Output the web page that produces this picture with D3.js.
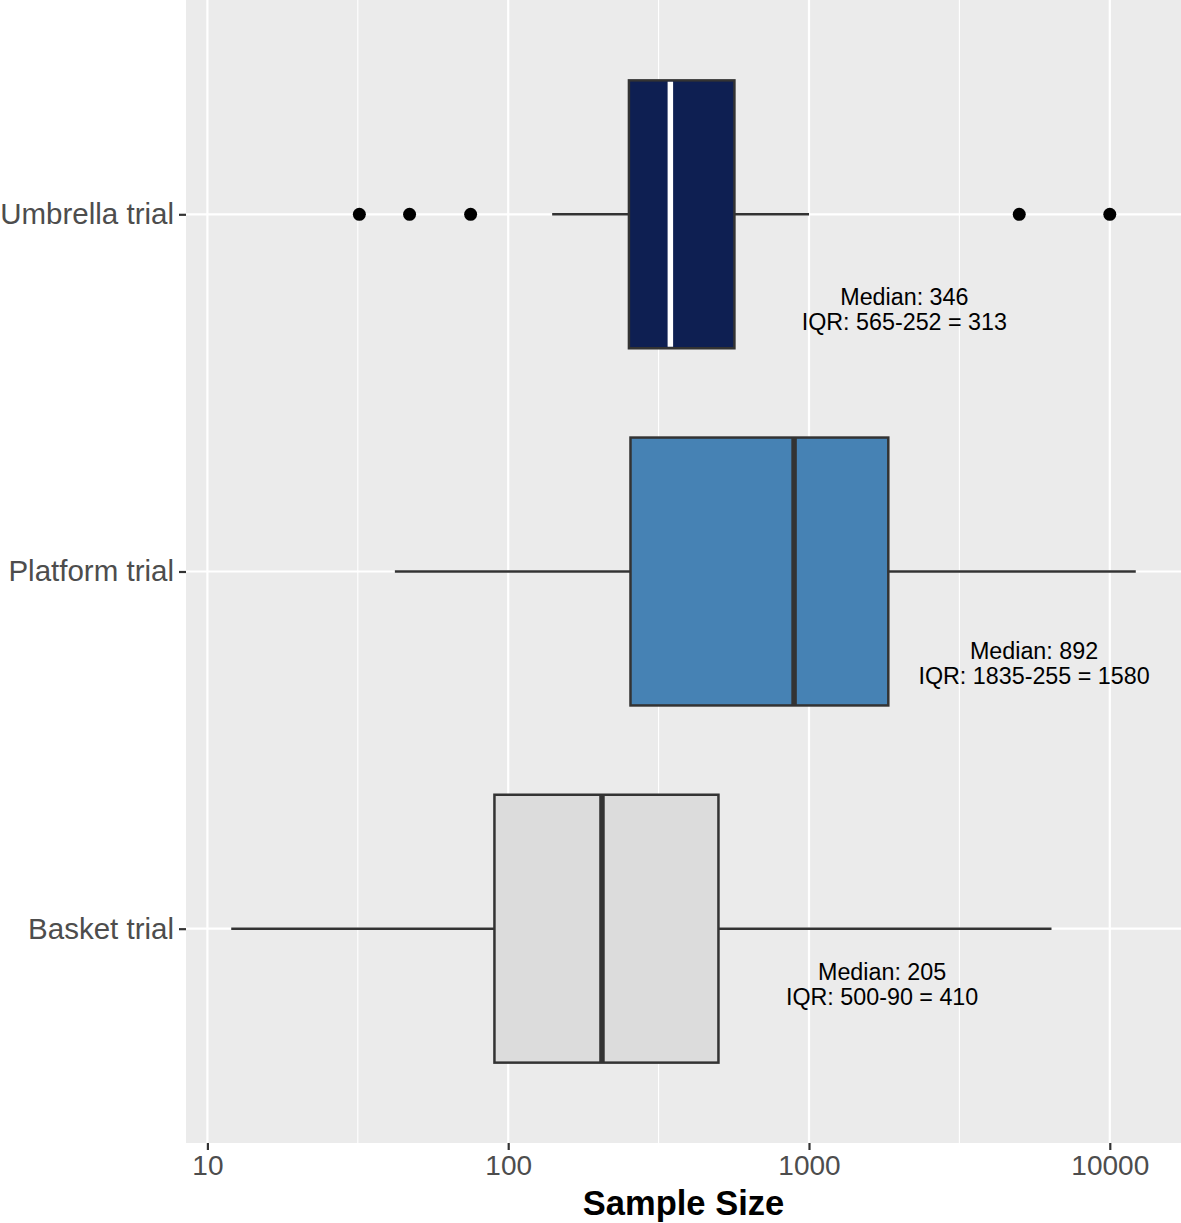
<!DOCTYPE html>
<html>
<head>
<meta charset="utf-8">
<script src="https://cdn.jsdelivr.net/npm/d3@7"></script>
<style>
  body { margin: 0; background: #fff; }
  svg { display: block; font-family: "Liberation Sans", Arial, Helvetica, sans-serif; }
</style>
</head>
<body>
<div id="chart" style="width:1181px;height:1223px"></div>
<script>
// trial designs, top to bottom
const categories = ['Umbrella trial', 'Platform trial', 'Basket trial'];
const fills = ['#0e1f52', '#4682b4', '#dcdcdc'];
const medianColors = ['#ffffff', '#333333', '#333333'];
// box statistics
const whiskerLow = [140, 42, 12];
const q1 = [252, 255, 90];
const median = [346, 892, 205];
const q3 = [565, 1835, 500];
const whiskerHigh = [1000, 12200, 6400];
// outliers (umbrella only)
const outliers = [[32, 47, 75, 5000, 10000], [], []];
// annotation text, x position (data units) and offset below the category (in category steps)
const medianLabels = ['Median: 346', 'Median: 892', 'Median: 205'];
const iqrLabels = ['IQR: 565-252 = 313', 'IQR: 1835-255 = 1580', 'IQR: 500-90 = 410'];
const labelX = [2075, 5600, 1750];
const labelDy = [0.255, 0.245, 0.145];
const xTicks = [10, 100, 1000, 10000];
const xMinorTicks = [31.62, 316.2, 3162];

const margin = { top: 0, right: 0, bottom: 80, left: 186 };
const container = document.getElementById('chart');
const W = container.offsetWidth, H = container.offsetHeight;
const width = W - margin.left - margin.right;
const height = H - margin.top - margin.bottom;

const svg = d3.select(container).append('svg').attr('width', W).attr('height', H);
const g = svg.append('g').attr('transform', 'translate(' + margin.left + ',' + margin.top + ')');

// log x scale with ggplot style 5% expansion
const lo = Math.log10(12), hi = Math.log10(12200);
const pad = (hi - lo) * 0.05;
const x = d3.scaleLog().domain([Math.pow(10, lo - pad), Math.pow(10, hi + pad)]).range([0, width]);
// discrete y with 0.6 unit expansion
const y = d3.scalePoint().domain(categories).range([0, height]).padding(0.6);
const unit = y.step();
const boxH = unit * 0.75;

// panel
g.append('rect').attr('width', width).attr('height', height).attr('fill', '#ebebeb');
g.selectAll('.minor').data(xMinorTicks).enter().append('line')
  .attr('x1', d => x(d)).attr('x2', d => x(d)).attr('y1', 0).attr('y2', height)
  .attr('stroke', '#fff').attr('stroke-width', 1.1);
g.selectAll('.major').data(xTicks).enter().append('line')
  .attr('x1', d => x(d)).attr('x2', d => x(d)).attr('y1', 0).attr('y2', height)
  .attr('stroke', '#fff').attr('stroke-width', 2.2);
g.selectAll('.hgrid').data(categories).enter().append('line')
  .attr('x1', 0).attr('x2', width).attr('y1', d => y(d)).attr('y2', d => y(d))
  .attr('stroke', '#fff').attr('stroke-width', 2.2);

// axes
const xAxis = g.append('g').attr('transform', 'translate(0,' + height + ')')
  .call(d3.axisBottom(x).tickValues(xTicks).tickFormat(d3.format('d')).tickSize(7).tickPadding(5));
xAxis.select('.domain').remove();
xAxis.selectAll('line').attr('stroke', '#333').attr('stroke-width', 2.2);
xAxis.selectAll('text').attr('fill', '#4d4d4d').attr('font-size', 28).attr('font-family', null);

const yAxis = g.append('g')
  .call(d3.axisLeft(y).tickSize(7).tickPadding(5));
yAxis.select('.domain').remove();
yAxis.selectAll('line').attr('stroke', '#333').attr('stroke-width', 2.2);
yAxis.selectAll('text').attr('fill', '#4d4d4d').attr('font-size', 29.5).attr('font-family', null);

svg.append('text')
  .attr('x', margin.left + width / 2).attr('y', 1215)
  .attr('text-anchor', 'middle').attr('font-size', 34.5).attr('font-weight', 'bold')
  .attr('fill', '#000').text('Sample Size');

// boxes
categories.forEach(function(c, i) {
  const cy = y(c);
  const b = g.append('g');
  b.append('line').attr('x1', x(whiskerLow[i])).attr('x2', x(q1[i])).attr('y1', cy).attr('y2', cy)
    .attr('stroke', '#333').attr('stroke-width', 2.5);
  b.append('line').attr('x1', x(q3[i])).attr('x2', x(whiskerHigh[i])).attr('y1', cy).attr('y2', cy)
    .attr('stroke', '#333').attr('stroke-width', 2.5);
  b.append('rect').attr('x', x(q1[i])).attr('width', x(q3[i]) - x(q1[i]))
    .attr('y', cy - boxH / 2).attr('height', boxH)
    .attr('fill', fills[i]).attr('stroke', '#333').attr('stroke-width', 2.5);
  b.append('line').attr('x1', x(median[i])).attr('x2', x(median[i]))
    .attr('y1', cy - boxH / 2 + (i === 0 ? 1.5 : 0)).attr('y2', cy + boxH / 2 - (i === 0 ? 1.5 : 0))
    .attr('stroke', medianColors[i]).attr('stroke-width', 5.5);
  b.selectAll('circle').data(outliers[i]).enter().append('circle')
    .attr('cx', d => x(d)).attr('cy', cy).attr('r', 6.5).attr('fill', '#000');

  const ly = cy + labelDy[i] * unit;
  const t = g.append('text').attr('text-anchor', 'middle').attr('font-size', 23.3).attr('fill', '#000');
  t.append('tspan').attr('x', x(labelX[i])).attr('y', ly).text(medianLabels[i]);
  t.append('tspan').attr('x', x(labelX[i])).attr('y', ly + 25).text(iqrLabels[i]);
});
</script>
</body>
</html>
